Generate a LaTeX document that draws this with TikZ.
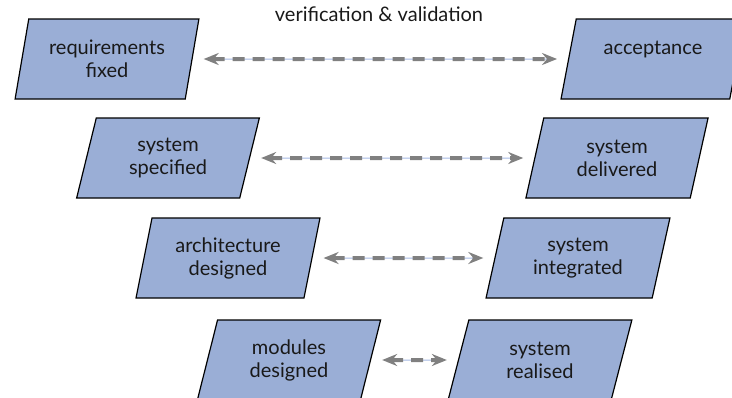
\documentclass[tikz,border=0pt]{standalone}
\usepackage{fontspec}
\setmainfont{Lato}
\usetikzlibrary{shapes.geometric,arrows.meta}

\definecolor{boxblue}{RGB}{154,174,214}
\definecolor{vvgray}{RGB}{128,128,128}
\definecolor{vvblue}{RGB}{165,185,228}
\definecolor{ink}{RGB}{25,25,25}

\tikzstyle{stage} = [trapezium, trapezium left angle=75, trapezium right angle=105,
    trapezium stretches=true, minimum width=184, minimum height=80,
    fill=boxblue, draw=black, line width=1.2pt, align=center, inner sep=0pt,
    text=ink, font=\fontsize{20}{23}\selectfont]
\tikzstyle{vvthin} = [draw=vvblue, line width=1pt, shorten <=14pt, shorten >=14pt]
\tikzstyle{vvdash} = [draw=vvgray, line width=4pt, dash pattern=on 12pt off 8pt,
    {Stealth[length=15pt,width=12pt,inset=5pt]}-{Stealth[length=15pt,width=12pt,inset=5pt]},
    shorten <=11pt, shorten >=11pt]

\begin{document}
\begin{tikzpicture}[x=1pt, y=-1pt]
\useasboundingbox (0,0) rectangle (732,397);

\node[text=ink, font=\fontsize{20}{23}\selectfont] (title) at (379,14) {verification \& validation};

% left branch
\node[stage] (req) at (107,59) {requirements\\fixed};
\node[stage] (spec) at (168,158) {system\\specified};
\node[stage] (arch) at (228,258) {architecture\\designed};
\node[stage] (modules) at (289,360) {modules\\designed};

% right branch
\node[stage] (acc) at (653,59) {acceptance\\~};
\node[stage] (deliv) at (617,158) {system\\delivered};
\node[stage] (integ) at (578,258) {system\\integrated};
\node[stage] (realised) at (540,360) {system\\realised};

\foreach \l/\r in {req/acc, spec/deliv, arch/integ, modules/realised} {
    \draw[vvthin] (\l.east) -- (\r.west);
    \draw[vvdash] (\l.east) -- (\r.west);
}
\end{tikzpicture}
\end{document}
